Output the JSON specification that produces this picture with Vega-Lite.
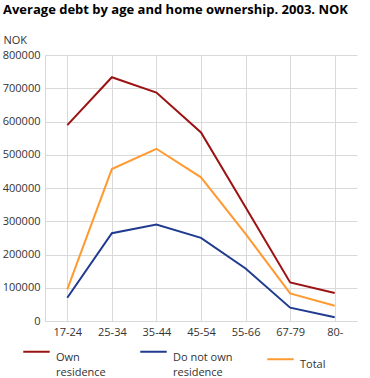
{
  "$schema": "https://vega.github.io/schema/vega-lite/v6.json",
  "width": 312,
  "height": 266,
  "autosize": {"type": "none"},
  "padding": {"left": 45, "top": 55, "right": 13, "bottom": 57},
  "background": "white",
  "title": {
    "text": "Average debt by age and home ownership. 2003. NOK",
    "anchor": "start",
    "frame": "group",
    "dx": -42,
    "offset": 17,
    "font": "Open Sans",
    "fontSize": 13,
    "fontWeight": "bold",
    "color": "#000000"
  },
  "config": {
    "view": {"stroke": null},
    "font": "Open Sans",
    "axis": {
      "labelFont": "Open Sans",
      "labelFontSize": 11,
      "labelColor": "#333333",
      "gridColor": "#d9d9d9",
      "gridWidth": 1,
      "domainColor": "#d9d9d9",
      "ticks": false
    }
  },
  "data": {
    "values": [
      {"age": "17-24", "series": "Own residence", "value": 589000},
      {"age": "25-34", "series": "Own residence", "value": 733000},
      {"age": "35-44", "series": "Own residence", "value": 687000},
      {"age": "45-54", "series": "Own residence", "value": 567000},
      {"age": "55-66", "series": "Own residence", "value": 342000},
      {"age": "67-79", "series": "Own residence", "value": 116000},
      {"age": "80-", "series": "Own residence", "value": 84000},
      {"age": "17-24", "series": "Do not own residence", "value": 70000},
      {"age": "25-34", "series": "Do not own residence", "value": 264000},
      {"age": "35-44", "series": "Do not own residence", "value": 290000},
      {"age": "45-54", "series": "Do not own residence", "value": 250000},
      {"age": "55-66", "series": "Do not own residence", "value": 158000},
      {"age": "67-79", "series": "Do not own residence", "value": 40000},
      {"age": "80-", "series": "Do not own residence", "value": 11000},
      {"age": "17-24", "series": "Total", "value": 95000},
      {"age": "25-34", "series": "Total", "value": 457000},
      {"age": "35-44", "series": "Total", "value": 518000},
      {"age": "45-54", "series": "Total", "value": 432000},
      {"age": "55-66", "series": "Total", "value": 262000},
      {"age": "67-79", "series": "Total", "value": 83000},
      {"age": "80-", "series": "Total", "value": 46000}
    ]
  },
  "mark": {"type": "line", "strokeWidth": 2},
  "encoding": {
    "x": {
      "field": "age",
      "type": "ordinal",
      "sort": null,
      "scale": {"type": "point", "padding": 0.5},
      "axis": {"title": null, "labelAngle": 0, "labelPadding": 5, "grid": true}
    },
    "y": {
      "field": "value",
      "type": "quantitative",
      "scale": {"domain": [0, 800000]},
      "axis": {
        "title": "NOK",
        "titleAngle": 0,
        "titleAlign": "left",
        "titleBaseline": "middle",
        "titleX": -42,
        "titleY": -15,
        "titleFont": "Open Sans",
        "titleFontSize": 11,
        "titleFontWeight": "normal",
        "titleColor": "#333333",
        "format": "d",
        "tickCount": 8,
        "labelPadding": 5,
        "grid": true
      }
    },
    "color": {
      "field": "series",
      "type": "nominal",
      "scale": {
        "domain": ["Own residence", "Do not own residence", "Total"],
        "range": ["#9b1212", "#1f3b8f", "#ff9a30"]
      },
      "legend": {
        "title": null,
        "orient": "none",
        "legendX": -23,
        "legendY": 282,
        "direction": "horizontal",
        "columns": 3,
        "columnPadding": 30,
        "symbolType": "stroke",
        "symbolSize": 700,
        "symbolStrokeWidth": 2,
        "labelFont": "Open Sans",
        "labelFontSize": 11,
        "labelColor": "#333333",
        "labelOffset": 5,
        "labelBaseline": "top",
        "symbolBaseline": "top",
        "labelExpr": "datum.label == 'Own residence' ? ['Own', 'residence'] : datum.label == 'Do not own residence' ? ['Do not own', 'residence'] : datum.label",
        "encode": {
          "labels": {"update": {"lineHeight": {"value": 15}}}
        }
      }
    }
  }
}
